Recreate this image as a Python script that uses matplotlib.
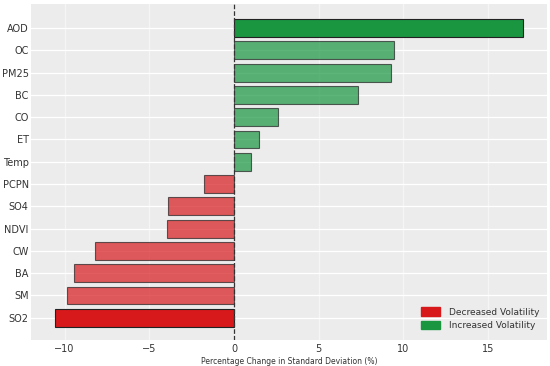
import matplotlib.pyplot as plt
import numpy as np
from matplotlib.patches import Patch

variables = ['SO2', 'SM', 'BA', 'CW', 'NDVI', 'SO4', 'PCPN',
             'Temp', 'ET', 'CO', 'BC', 'PM25', 'OC', 'AOD']
pct_change = [-10.6, -9.85, -9.45, -8.2, -3.95, -3.9, -1.8,
              1.0, 1.5, 2.6, 7.3, 9.3, 9.45, 17.05]

red = '#d7191c'
green = '#1a9641'

fig, ax = plt.subplots(figsize=(5.5, 3.66), dpi=100)
fig.subplots_adjust(left=0.056, right=0.995, top=0.989, bottom=0.071)
ax.set_facecolor('#ececec')

y = np.arange(len(variables))
vmax = max(pct_change)
vmin = min(pct_change)
for yi, v in zip(y, pct_change):
    col = green if v > 0 else red
    strong = v == vmax or v == vmin
    ax.barh(yi, v, height=0.8, color=col, alpha=1.0 if strong else 0.7,
            edgecolor='#222222', linewidth=0.8, zorder=3)

ax.axvline(0, color='#333333', linestyle='--', linewidth=0.9, zorder=4)

ax.set_yticks(y)
ax.set_yticklabels(variables)
ax.set_xticks([-10, -5, 0, 5, 10, 15])
ax.set_xticklabels(['\u221210', '\u22125', '0', '5', '10', '15'])
ax.set_xlim(-12, 18.5)
ax.set_ylim(-1.0, 14.08)
ax.grid(True, axis='y', color='white', linewidth=0.9, zorder=0)
ax.grid(True, axis='x', color='white', linewidth=0.9, alpha=0.5, zorder=0)
ax.tick_params(axis='y', length=0, labelsize=7, colors='#333333', pad=1.5)
ax.tick_params(axis='x', length=0, labelsize=7, colors='#333333', pad=3)
for s in ax.spines.values():
    s.set_visible(False)

ax.set_xlabel('Percentage Change in Standard Deviation (%)', fontsize=5.5,
              color='#333333', labelpad=2)

handles = [Patch(color=red, label='Decreased Volatility'),
           Patch(color=green, label='Increased Volatility')]
ax.legend(handles=handles, loc='lower right', frameon=False, fontsize=6.5,
          handlelength=2.2, handleheight=1.0, handletextpad=0.9,
          labelspacing=0.5, labelcolor='#333333',
          bbox_to_anchor=(1.0, 0.005))

plt.savefig('out.png', dpi=100)
